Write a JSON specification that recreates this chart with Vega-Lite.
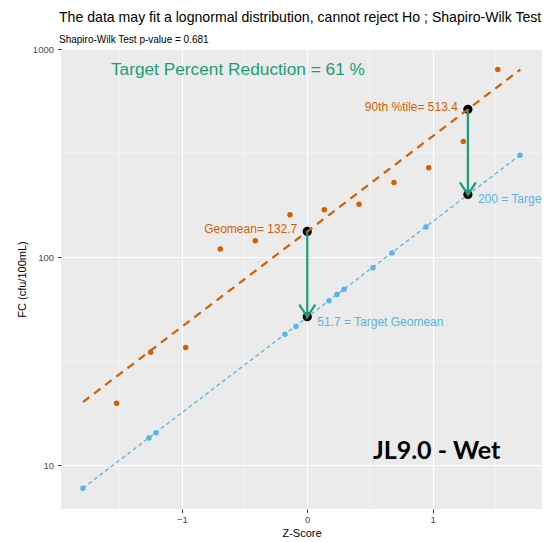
{
  "$schema": "https://vega.github.io/schema/vega-lite/v6.json",
  "width": 481,
  "height": 460,
  "autosize": "none",
  "padding": {"left": 61, "top": 49, "right": 6, "bottom": 33},
  "background": "white",
  "title": {
    "text": "The data may fit a lognormal distribution, cannot reject Ho ;  Shapiro-Wilk Test",
    "subtitle": "Shapiro-Wilk Test p-value = 0.681",
    "anchor": "start",
    "frame": "group",
    "font": "Liberation Sans",
    "fontSize": 14.1,
    "fontWeight": "normal",
    "color": "black",
    "subtitleFont": "Liberation Sans",
    "subtitleFontSize": 10,
    "subtitleColor": "black",
    "offset": -1,
    "subtitlePadding": 10,
    "dx": -2
  },
  "config": {
    "view": {"fill": "#EBEBEB", "stroke": null},
    "font": "Liberation Sans"
  },
  "datasets": {
    "obs": [
      {"z": -1.521, "fc": 19.8}, {"z": -1.250, "fc": 34.9}, {"z": -0.970, "fc": 36.7},
      {"z": -0.694, "fc": 109.3}, {"z": -0.415, "fc": 119.7}, {"z": -0.138, "fc": 159.5},
      {"z": 0.136, "fc": 168.6}, {"z": 0.413, "fc": 179.6}, {"z": 0.692, "fc": 228},
      {"z": 0.969, "fc": 268.7}, {"z": 1.245, "fc": 358.9}, {"z": 1.520, "fc": 797}
    ],
    "fit": [
      {"z": -1.79, "fc": 7.74}, {"z": -1.263, "fc": 13.5}, {"z": -1.207, "fc": 14.3},
      {"z": -0.178, "fc": 42.5}, {"z": -0.090, "fc": 46.3}, {"z": 0.173, "fc": 61.7},
      {"z": 0.237, "fc": 66.1}, {"z": 0.293, "fc": 70.0}, {"z": 0.524, "fc": 88.9},
      {"z": 0.676, "fc": 104.5}, {"z": 0.947, "fc": 139.6}, {"z": 1.698, "fc": 308.5}
    ],
    "obsLine": [{"z": -1.79, "fc": 20.1}, {"z": 1.70, "fc": 797}],
    "fitLine": [{"z": -1.79, "fc": 7.75}, {"z": 1.70, "fc": 310}],
    "key": [
      {"z": 0, "fc": 132.7}, {"z": 0, "fc": 51.7},
      {"z": 1.2816, "fc": 513.4}, {"z": 1.2816, "fc": 200}
    ],
    "arrows": [
      {"z": 0, "fc": 132.7, "fc2": 51.7},
      {"z": 1.2816, "fc": 513.4, "fc2": 200}
    ],
    "heads": [{"z": 0, "fc": 51.7}, {"z": 1.2816, "fc": 200}],
    "minorX": [{"z": -1.5}, {"z": -0.5}, {"z": 0.5}, {"z": 1.5}],
    "minorY": [{"fc": 31.62}, {"fc": 316.2}],
    "obsLabels": [
      {"z": 0, "fc": 132.7, "label": "Geomean= 132.7"},
      {"z": 1.2816, "fc": 513.4, "label": "90th %tile= 513.4"}
    ],
    "fitLabels": [
      {"z": 0, "fc": 51.7, "label": "51.7 = Target Geomean"},
      {"z": 1.2816, "fc": 200, "label": "200 = Target 90th %tile"}
    ],
    "headline": [{"z": -1.567, "fc": 789, "label": "Target Percent Reduction = 61 %"}],
    "site": [{"z": 0.524, "fc": 11.65, "label": "JL9.0 - Wet"}]
  },
  "layer": [
    {
      "data": {"name": "minorX"},
      "mark": {"type": "rule", "color": "white", "strokeWidth": 0.55},
      "encoding": {
        "x": {
          "field": "z", "type": "quantitative",
          "scale": {"domain": [-1.965, 1.873], "nice": false, "zero": false},
          "axis": {
            "title": "Z-Score", "values": [-1, 0, 1], "format": "d",
            "grid": true, "gridColor": "white", "gridWidth": 1.1,
            "domain": false, "tickColor": "#333333", "tickSize": 3.5, "tickWidth": 1,
            "labelColor": "#4D4D4D", "labelFontSize": 9.5, "labelPadding": 2,
            "titleColor": "black", "titleFontSize": 11, "titleFontWeight": "normal", "titlePadding": 3
          }
        }
      }
    },
    {
      "data": {"name": "minorY"},
      "mark": {"type": "rule", "color": "white", "strokeWidth": 0.55},
      "encoding": {
        "y": {
          "field": "fc", "type": "quantitative",
          "scale": {"type": "log", "domain": [6.15, 1000], "nice": false, "zero": false},
          "axis": {
            "title": "FC (cfu/100mL)", "values": [10, 100, 1000], "format": "d",
            "grid": true, "gridColor": "white", "gridWidth": 1.1,
            "domain": false, "tickColor": "#333333", "tickSize": 3.5, "tickWidth": 1,
            "labelColor": "#4D4D4D", "labelFontSize": 9.5, "labelPadding": 4,
            "titleColor": "black", "titleFontSize": 11, "titleFontWeight": "normal", "titlePadding": 5
          }
        }
      }
    },
    {
      "data": {"name": "key"},
      "mark": {"type": "circle", "color": "black", "opacity": 1, "size": 85},
      "encoding": {
        "x": {"field": "z", "type": "quantitative"},
        "y": {"field": "fc", "type": "quantitative"}
      }
    },
    {
      "data": {"name": "obsLine"},
      "mark": {"type": "line", "color": "#D55E00", "strokeWidth": 2.2, "strokeDash": [8, 6]},
      "encoding": {
        "x": {"field": "z", "type": "quantitative"},
        "y": {"field": "fc", "type": "quantitative"}
      }
    },
    {
      "data": {"name": "fitLine"},
      "mark": {"type": "line", "color": "#56B4E9", "strokeWidth": 1.3, "strokeDash": [4, 3]},
      "encoding": {
        "x": {"field": "z", "type": "quantitative"},
        "y": {"field": "fc", "type": "quantitative"}
      }
    },
    {
      "data": {"name": "obs"},
      "mark": {"type": "circle", "color": "#D55E00", "opacity": 1, "size": 30},
      "encoding": {
        "x": {"field": "z", "type": "quantitative"},
        "y": {"field": "fc", "type": "quantitative"}
      }
    },
    {
      "data": {"name": "fit"},
      "mark": {"type": "circle", "color": "#56B4E9", "opacity": 1, "size": 30},
      "encoding": {
        "x": {"field": "z", "type": "quantitative"},
        "y": {"field": "fc", "type": "quantitative"}
      }
    },
    {
      "data": {"name": "arrows"},
      "mark": {"type": "rule", "color": "#1B9E77", "strokeWidth": 2.2},
      "encoding": {
        "x": {"field": "z", "type": "quantitative"},
        "y": {"field": "fc", "type": "quantitative"},
        "y2": {"field": "fc2"}
      }
    },
    {
      "data": {"name": "heads"},
      "mark": {"type": "point", "shape": "M -1 -1.5 L 0 0 L 1 -1.5", "filled": false, "stroke": "#1B9E77", "strokeWidth": 2.2, "opacity": 1, "size": 256},
      "encoding": {
        "x": {"field": "z", "type": "quantitative"},
        "y": {"field": "fc", "type": "quantitative"}
      }
    },
    {
      "data": {"name": "obsLabels"},
      "mark": {"type": "text", "color": "#D55E00", "fontSize": 12, "align": "right", "baseline": "middle", "dx": -10, "dy": -2},
      "encoding": {
        "x": {"field": "z", "type": "quantitative"},
        "y": {"field": "fc", "type": "quantitative"},
        "text": {"field": "label"}
      }
    },
    {
      "data": {"name": "fitLabels"},
      "mark": {"type": "text", "color": "#56B4E9", "fontSize": 12, "align": "left", "baseline": "middle", "dx": 10, "dy": 5, "clip": true},
      "encoding": {
        "x": {"field": "z", "type": "quantitative"},
        "y": {"field": "fc", "type": "quantitative"},
        "text": {"field": "label"}
      }
    },
    {
      "data": {"name": "headline"},
      "mark": {"type": "text", "color": "#1B9E77", "fontSize": 17.3, "align": "left", "baseline": "middle"},
      "encoding": {
        "x": {"field": "z", "type": "quantitative"},
        "y": {"field": "fc", "type": "quantitative"},
        "text": {"field": "label"}
      }
    },
    {
      "data": {"name": "site"},
      "mark": {"type": "text", "color": "black", "font": "Lato", "fontWeight": "bold", "fontSize": 25, "align": "left", "baseline": "middle"},
      "encoding": {
        "x": {"field": "z", "type": "quantitative"},
        "y": {"field": "fc", "type": "quantitative"},
        "text": {"field": "label"}
      }
    }
  ]
}
